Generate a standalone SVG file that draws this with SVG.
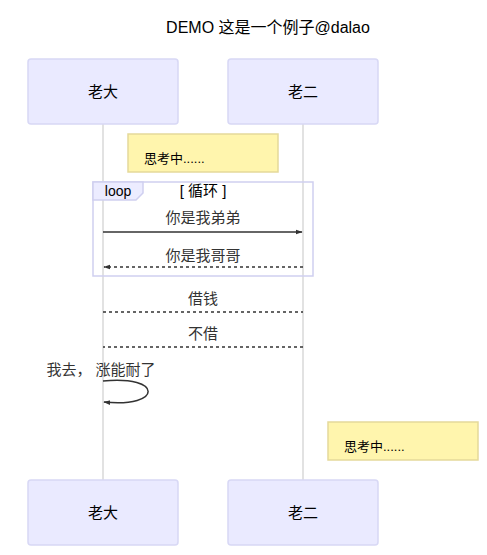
<svg xmlns="http://www.w3.org/2000/svg" width="487" height="555" viewBox="0 0 487 555">
<defs>
<style>
text{font-family:"Liberation Sans","Noto Sans CJK SC",sans-serif;fill:#333}
.actor rect{fill:#eaeaff;stroke:#d8d8f5;stroke-width:1.5}
.actor text{font-size:15px;fill:#000;text-anchor:middle}
.note rect{fill:#fff5ad;stroke:#e5d99a;stroke-width:1.5}
.note text{font-size:13px;fill:#000}
.life{stroke:#d9d9d9;stroke-width:1.5}
.msg{stroke:#333;stroke-width:1.5;fill:none}
.dot{stroke-dasharray:3,3}
.mt{font-size:15px;text-anchor:middle}
</style>
<marker id="arr" viewBox="0 0 10 10" refX="9" refY="5" markerWidth="7" markerHeight="7" orient="auto-start-reverse" markerUnits="userSpaceOnUse">
<path d="M0,1.5 L10,5 L0,8.5 z" fill="#333"/>
</marker>
</defs>
<rect width="487" height="555" fill="#fff"/>
<text x="268" y="33" style="font-size:16px;fill:#000" text-anchor="middle">DEMO 这是一个例子@dalao</text>
<g id="lifelines">
<line class="life" x1="103" y1="124" x2="103" y2="480"/>
<line class="life" x1="303" y1="124" x2="303" y2="480"/>
</g>
<g id="actor-laoda-top" class="actor"><rect x="28" y="59" width="150" height="65" rx="3"/><text x="103" y="97">老大</text></g>
<g id="actor-laoer-top" class="actor"><rect x="228" y="59" width="150" height="65" rx="3"/><text x="303" y="97">老二</text></g>
<g id="note1" class="note"><rect x="128" y="134" width="150" height="38"/><text x="144" y="163">思考中......</text></g>
<g id="loop">
<rect x="93" y="182" width="220" height="94" fill="none" stroke="#cfcff0" stroke-width="1.5"/>
<polygon points="93,182 143,182 143,193 136,200 93,200" fill="#ececff" stroke="#cfcff0" stroke-width="1.5"/>
<text x="118" y="196" style="font-size:14px;fill:#000" text-anchor="middle">loop</text>
<text x="203" y="196" style="font-size:15px;fill:#000" text-anchor="middle">[ 循环 ]</text>
</g>
<g id="connectors">
<text class="mt" x="203" y="223">你是我弟弟</text>
<line class="msg" x1="103" y1="232" x2="302" y2="232" marker-end="url(#arr)"/>
<text class="mt" x="203" y="261">你是我哥哥</text>
<line class="msg dot" x1="303" y1="267" x2="104" y2="267" marker-end="url(#arr)"/>
<text class="mt" x="203" y="304">借钱</text>
<line class="msg dot" x1="103" y1="312" x2="303" y2="312"/>
<text class="mt" x="203" y="339">不借</text>
<line class="msg dot" x1="303" y1="347" x2="103" y2="347"/>
<text class="mt" x="101" y="375">我去， 涨能耐了</text>
<path class="msg" d="M103,381 C163,375 163,408 104,402" marker-end="url(#arr)"/>
</g>
<g id="note2" class="note"><rect x="328" y="422" width="150" height="38"/><text x="344" y="451">思考中......</text></g>
<g id="actor-laoda-bottom" class="actor"><rect x="28" y="480" width="150" height="65" rx="3"/><text x="103" y="518">老大</text></g>
<g id="actor-laoer-bottom" class="actor"><rect x="228" y="480" width="150" height="65" rx="3"/><text x="303" y="518">老二</text></g>
</svg>
